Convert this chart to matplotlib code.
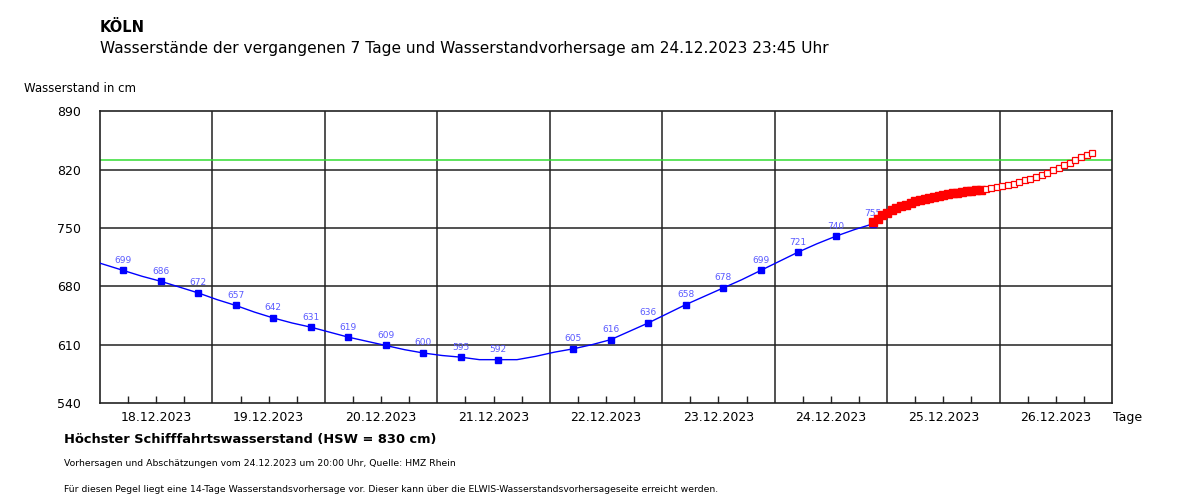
import matplotlib
matplotlib.use("Agg")
import matplotlib.pyplot as plt
import matplotlib.dates as mdates
import pandas as pd
import numpy as np

# measured water level (blue line), every 4 hours
line_times = pd.date_range("2023-12-17 21:00", "2023-12-24 21:00", freq="4h")
line_values = [713,
               706, 699, 692, 686, 679, 672,
               664, 657, 649, 642, 636, 631,
               625, 619, 614, 609, 604, 600,
               597, 595, 592, 592, 592, 596,
               601, 605, 610, 616, 626, 636,
               647, 658, 668, 678, 688, 699,
               710, 721, 731, 740, 748, 755]

# labelled measurement points
marker_times = pd.to_datetime([
    "2023-12-18 05:00", "2023-12-18 13:00", "2023-12-18 21:00",
    "2023-12-19 05:00", "2023-12-19 13:00", "2023-12-19 21:00",
    "2023-12-20 05:00", "2023-12-20 13:00", "2023-12-20 21:00",
    "2023-12-21 05:00", "2023-12-21 13:00",
    "2023-12-22 05:00", "2023-12-22 13:00", "2023-12-22 21:00",
    "2023-12-23 05:00", "2023-12-23 13:00", "2023-12-23 21:00",
    "2023-12-24 05:00", "2023-12-24 13:00", "2023-12-24 21:00"])
marker_values = [699, 686, 672, 657, 642, 631, 619, 609, 600, 595, 592,
                 605, 616, 636, 658, 678, 699, 721, 740, 755]

# forecast (filled) and estimate (hollow)
fc_times = pd.date_range("2023-12-24 21:00", "2023-12-25 20:00", freq="1h")
fc_values = [757, 761, 765, 768, 771, 773.5, 776, 778, 780, 782, 783.5, 785,
             786.5, 787.5, 788.5, 789.5, 790.5, 791.5, 792.5, 793, 794, 794.5,
             795, 795.5]
est_times = pd.date_range("2023-12-25 21:00", periods=20, freq="72min")
est_values = [797, 798, 799, 800, 801, 803, 805, 807, 809, 811, 813, 816,
              819, 822, 825, 828, 832, 835, 837, 840]

hsw_level = 832
y_ticks = [540, 610, 680, 750, 820, 890]
days = pd.date_range("2023-12-18", "2023-12-27", freq="D")

fig = plt.figure(figsize=(12, 5.04), dpi=100)
ax = fig.add_axes([100 / 1200, 1 - 403 / 504, 1012 / 1200, (403 - 111.3) / 504])

ax.set_xlim(days[0], days[-1])
ax.set_ylim(540, 890)

# grid
for y in y_ticks[1:-1]:
    ax.axhline(y, color="#222222", lw=1.1, zorder=1)
for d in days[1:-1]:
    ax.axvline(d, color="#222222", lw=1.1, zorder=1)
ax.axhline(hsw_level, color="#33dd33", lw=1.1, zorder=2)

ax.plot(line_times, line_values, color="#0000ff", lw=1, zorder=3)
ax.plot(marker_times, marker_values, "s", color="#0000ff", ms=4.5, zorder=4)
for t, v in zip(marker_times, marker_values):
    ax.annotate(str(v), (t, v), xytext=(0, 4), textcoords="offset points",
                ha="center", va="bottom", fontsize=6.5, color="#5a5aff")

ax.plot(fc_times, fc_values, "s-", color="#ff0000", lw=4, ms=5.8, zorder=5)
ax.plot(est_times, est_values, "s", mfc="white", mec="#ff0000", mew=0.9,
        ms=4.3, zorder=5)

# axes styling
for s in ax.spines.values():
    s.set_linewidth(1.2)
    s.set_color("#222222")
ax.set_yticks(y_ticks)
ax.tick_params(axis="y", length=0, pad=14, labelsize=9)
ax.xaxis.set_major_locator(mdates.HourLocator(byhour=[12]))
ax.xaxis.set_major_formatter(mdates.DateFormatter("%d.%m.%Y"))
ax.xaxis.set_minor_locator(mdates.HourLocator(byhour=[6, 18]))
ax.tick_params(axis="x", which="both", direction="in", length=5, width=1,
               color="#222222", labelsize=9, pad=6)

fig.text(100 / 1200, 1 - 27 / 504, "KÖLN", fontsize=10.5, fontweight="bold",
         va="center")
fig.text(100 / 1200, 1 - 48 / 504,
         "Wasserstände der vergangenen 7 Tage und Wasserstandvorhersage am 24.12.2023 23:45 Uhr",
         fontsize=11.1, va="center")
fig.text(24 / 1200, 1 - 88 / 504, "Wasserstand in cm", fontsize=8.5, va="center")
fig.text(1113 / 1200, 1 - 418 / 504, "Tage", fontsize=9, va="center")
fig.text(64 / 1200, 1 - 440 / 504, "Höchster Schifffahrtswasserstand (HSW = 830 cm)",
         fontsize=9.4, fontweight="bold", va="center")
fig.text(64 / 1200, 1 - 464 / 504,
         "Vorhersagen und Abschätzungen vom 24.12.2023 um 20:00 Uhr, Quelle: HMZ Rhein",
         fontsize=6.7, va="center")
fig.text(64 / 1200, 1 - 489 / 504,
         "Für diesen Pegel liegt eine 14-Tage Wasserstandsvorhersage vor. Dieser kann über die ELWIS-Wasserstandsvorhersageseite erreicht werden.",
         fontsize=6.7, va="center")

fig.savefig("out.png", dpi=100)
